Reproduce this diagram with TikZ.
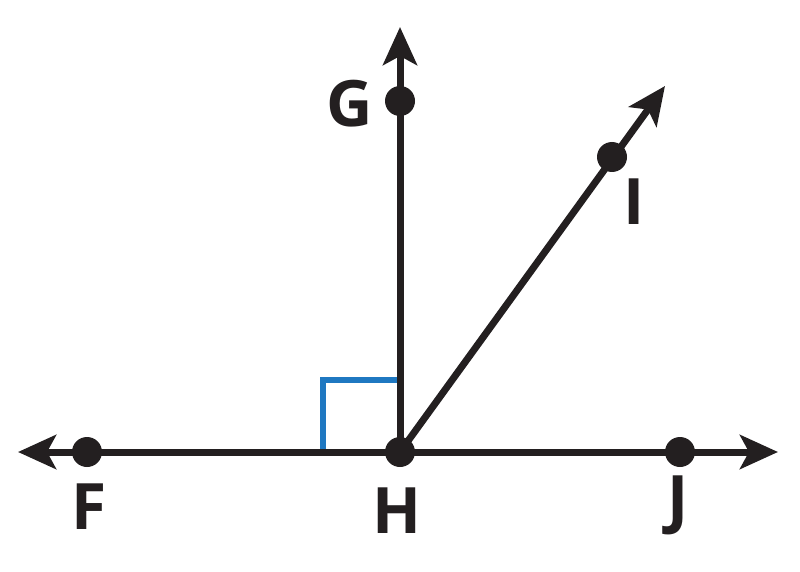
\documentclass[tikz,border=0pt]{standalone}
\usepackage{fontspec}
\setmainfont{Open Sans}
\usetikzlibrary{arrows.meta}
\definecolor{ink}{HTML}{231F20}
\definecolor{sqblue}{HTML}{1F78C1}
\tikzset{
  ray/.style={line width=7pt, draw=ink, -{Stealth[length=38pt, width=34pt, inset=9pt]}},
  pt/.style={circle, fill=ink, inner sep=0pt, minimum size=30pt},
  lbl/.style={font=\fontsize{64}{64}\selectfont\bfseries, text=ink, inner sep=0pt},
  rightmark/.style={line width=5.5pt, draw=sqblue}
}
\begin{document}
\begin{tikzpicture}[x=1pt, y=-1pt]
\useasboundingbox (0,0) rectangle (800,572);
\fill[white] (0,0) rectangle (800,572);
% ray endpoints
\coordinate (Lend) at (18,452);
\coordinate (Rend) at (778,452);
\coordinate (Tend) at (400,27);
\coordinate (Uend) at (665,86);
\coordinate (hC) at (400,452);
\coordinate (sqA) at (323,452);
\coordinate (sqB) at (323,380);
\coordinate (sqC) at (400,380);
% right angle mark
\draw[rightmark] (sqA) -- (sqB) -- (sqC);
% rays
\draw[ray] (hC) -- (Lend);
\draw[ray] (hC) -- (Rend);
\draw[ray] (hC) -- (Tend);
\draw[ray] (hC) -- (Uend);
% points
\node[pt] (F) at (87,452) {};
\node[pt] (J) at (680,452) {};
\node[pt] (H) at (400,452) {};
\node[pt] (G) at (400,101) {};
\node[pt] (I) at (612,157) {};
% labels
\node[lbl] (Fl) at (89,507) {F};
\node[lbl] (Hl) at (397,511) {H};
\node[lbl] (Jl) at (678,505) {J};
\node[lbl] (Gl) at (350,104) {G};
\node[lbl] (Il) at (634,202) {I};
\end{tikzpicture}
\end{document}
